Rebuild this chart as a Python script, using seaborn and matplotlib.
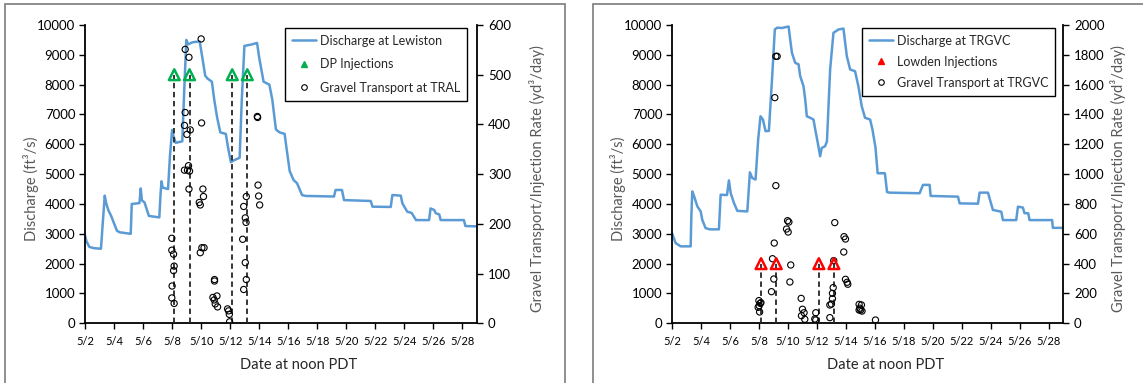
import matplotlib
matplotlib.use("Agg")
import matplotlib.pyplot as plt
from matplotlib.lines import Line2D
from matplotlib.patches import Rectangle
import seaborn as sns

sns.set_theme(style="white")
plt.rcParams["font.family"] = ["Lato", "DejaVu Sans"]

# ---- x axis: days after the 5/2 tick ----
tick_days = [0, 2, 4, 6, 8, 10, 12, 14, 16, 18, 20, 22, 24, 26]
tick_labels = ["5/2", "5/4", "5/6", "5/8", "5/10", "5/12", "5/14",
               "5/16", "5/18", "5/20", "5/22", "5/24", "5/26", "5/28"]

# ---- Discharge at Lewiston (ft3/s) ----
lew_day = [0.00, 0.10, 0.30, 0.60, 1.10, 1.20, 1.36, 1.45, 1.60, 1.80, 2.00, 2.20,
           2.40, 3.15, 3.22, 3.75, 3.84, 3.92, 4.10, 4.40, 5.12, 5.20, 5.27, 5.35,
           5.72, 5.85, 6.00, 6.08, 6.25, 6.70, 6.85, 6.98, 7.10, 7.40, 7.90, 8.05,
           8.28, 8.45, 8.74, 8.90, 9.10, 9.32, 9.70, 9.85, 10.05, 10.20, 10.65, 10.80,
           10.98, 11.20, 11.50, 11.85, 12.00, 12.30, 12.70, 12.90, 13.15, 13.40, 13.75,
           13.90, 14.10, 14.37, 14.60, 14.95, 15.20, 17.15, 17.26, 17.70, 17.84, 19.68,
           19.80, 21.06, 21.17, 21.75, 21.86, 22.20, 22.50, 22.80, 23.70, 23.80, 24.05,
           24.16, 24.40, 24.50, 26.10, 26.20, 27.00]
lew_q = [2950, 2750, 2560, 2520, 2500, 3200, 4280, 4050, 3800, 3600, 3350, 3100,
         3050, 3000, 4000, 4030, 4520, 4120, 4050, 3600, 3550, 4300, 4760, 4550,
         4500, 5600, 6480, 6300, 6050, 6100, 8000, 9500, 9350, 9420, 9450, 9000,
         8300, 8200, 8100, 7500, 6900, 6400, 6350, 5900, 5400, 5450, 5550, 7500,
         9300, 9320, 9350, 9400, 8900, 8100, 8000, 7500, 6500, 6400, 6350,
         5800, 5100, 4800, 4700, 4300, 4270, 4250, 4470, 4470, 4130, 4100,
         3910, 3900, 4300, 4280, 4020, 3740, 3700, 3460, 3460, 3850, 3800,
         3690, 3650, 3460, 3460, 3260, 3250]

# ---- Discharge at TRGVC (ft3/s) ----
trg_day = [0.00, 0.25, 0.60, 1.29, 1.33, 1.40, 1.50, 1.75, 1.98, 2.09, 2.32, 2.60,
           3.24, 3.36, 3.80, 3.93, 4.05, 4.28, 4.51, 5.20, 5.38, 5.54, 5.77, 5.95,
           6.11, 6.28, 6.46, 6.69, 6.92, 7.10, 7.26, 7.60, 8.05, 8.16, 8.28, 8.51,
           8.74, 8.85, 9.08, 9.20, 9.31, 9.54, 9.77, 9.89, 10.11, 10.23, 10.34, 10.57,
           10.70, 10.92, 11.15, 11.50, 11.84, 12.07, 12.30, 12.64, 12.87, 13.10, 13.33,
           13.68, 13.84, 14.05, 14.20, 14.70, 14.85, 15.03, 17.10, 17.33, 17.79, 17.86,
           19.75, 19.86, 21.13, 21.24, 21.82, 21.93, 22.16, 22.74, 22.85, 23.77, 23.89,
           24.23, 24.34, 24.60, 24.69, 26.25, 26.30, 27.00]
trg_q = [3020, 2690, 2580, 2580, 3500, 4420, 4300, 3920, 3750, 3470, 3190, 3150,
         3150, 4310, 4300, 4790, 4370, 4030, 3770, 3750, 5060, 4870, 4820, 6160,
         6940, 6830, 6440, 6450, 8290, 9850, 9910, 9900, 9950, 9520, 9070, 8730,
         8680, 8290, 7950, 7500, 6940, 6890, 6830, 6500, 5935, 5600, 5880, 5935,
         6100, 8510, 9740, 9850, 9880, 8960, 8510, 8450, 7950, 7280, 6890,
         6830, 6500, 5900, 5030, 5030, 4400, 4380, 4360, 4640, 4640, 4270,
         4245, 4020, 4010, 4380, 4380, 4190, 3800, 3740, 3460, 3460, 3910,
         3880, 3690, 3690, 3460, 3460, 3200, 3200]

# ---- Gravel transport at TRAL (yd3/day) ----
tral_day = [5.98, 5.98, 6.10, 6.14, 6.10, 6.00, 5.98, 6.14,
            6.90, 7.16, 6.90, 6.85, 7.02, 7.25, 6.85, 7.06, 7.20, 7.13, 7.16,
            8.00, 8.03, 7.87, 7.94, 8.12, 8.16, 7.94, 8.05, 8.20,
            8.92, 8.92, 8.81, 8.90, 9.09, 8.97, 9.13,
            9.82, 9.89, 9.94, 9.96,
            11.11, 10.93, 11.04, 11.09, 10.86, 11.04, 11.11, 10.93,
            11.87, 11.89, 11.92, 11.96, 12.03]
tral_rate = [171, 147, 139, 115, 106, 75, 51, 40,
             551, 535, 424, 398, 380, 389, 308, 308, 306, 317, 270,
             572, 403, 243, 238, 270, 255, 142, 152, 152,
             88, 85, 52, 47, 55, 39, 33,
             29, 25, 18, 3,
             255, 235, 212, 203, 169, 122, 88, 68,
             416, 414, 278, 256, 238]

# ---- Gravel transport at TRGVC (yd3/day) ----
trgvc_day = [6.00, 6.09, 5.95, 6.14, 6.05, 6.02,
             7.17, 7.26, 7.10, 7.17, 7.06, 6.94, 7.03, 6.87,
             7.98, 8.07, 7.91, 8.02, 8.20, 8.14,
             8.92, 9.01, 9.12, 8.94, 9.17,
             9.93, 9.86, 9.93,
             10.90, 11.01, 11.08, 11.08, 10.90, 11.13, 11.17, 11.24,
             11.88, 11.98, 11.86, 11.98, 12.09, 12.14,
             12.92, 13.08, 12.97, 13.03, 12.92, 13.12,
             14.05]
trgvc_rate = [152, 134, 107, 138, 76, 118,
              1790, 1790, 1513, 923, 538, 433, 297, 212,
              688, 679, 632, 612, 391, 277,
              167, 94, 71, 51, 27,
              71, 29, 22,
              123, 129, 165, 201, 38, 239, 420, 675,
              581, 565, 478, 295, 275, 262,
              127, 123, 101, 89, 89, 82,
              22]

# ---- Gravel injections (yd3/day) ----
inj_day = [6.15, 7.20, 10.14, 11.18]
dp_rate = [500, 500, 500, 500]
lowden_rate = [400, 400, 400, 400]

BLUE = "#5B9BD5"
GREEN = "#00B050"
RED = "#FF0000"
FRAME = "#868686"
W, H = 1143, 383

fig = plt.figure(figsize=(W / 100, H / 100), dpi=100)

# panel outlines
fig.patches.append(Rectangle((5 / W, -0.05), (565 - 5) / W, 1.05 - 4 / H,
                             transform=fig.transFigure, fill=False,
                             ec=FRAME, lw=1.3))
fig.patches.append(Rectangle((593 / W, -0.05), (1160 - 593) / W, 1.05 - 4 / H,
                             transform=fig.transFigure, fill=False,
                             ec=FRAME, lw=1.3))


def draw_panel(x0, x1, q_day, q_val, g_day, g_rate, inj_rate, inj_color,
               ymax2, ystep2, names, leg_anchor, leg_spacing, r_label_x):
    bottom, top = 323.3, 25.0
    ax = fig.add_axes([x0 / W, 1 - bottom / H, (x1 - x0) / W, (bottom - top) / H])
    ax2 = ax.twinx()

    sns.lineplot(x=q_day, y=q_val, ax=ax, color=BLUE, lw=1.8,
                 estimator=None, sort=False)

    ax2.vlines(inj_day, 0, inj_rate, colors="#262626", linestyles=(0, (3, 2)),
               lw=1.3, zorder=2)
    sns.scatterplot(x=inj_day, y=inj_rate, ax=ax2, marker="^", s=60,
                    facecolor="none", edgecolor=inj_color, linewidth=1.8,
                    zorder=4)
    sns.scatterplot(x=g_day, y=g_rate, ax=ax2, marker="o", s=20,
                    facecolor="none", edgecolor="black", linewidth=0.8,
                    zorder=3)

    ax.set_xlim(0, 27)
    ax.set_ylim(0, 10000)
    ax.set_yticks(range(0, 10001, 1000))
    ax2.set_ylim(0, ymax2)
    ax2.set_yticks(range(0, ymax2 + 1, ystep2))
    ax.set_xticks(tick_days)
    ax.set_xticklabels(tick_labels)

    for a in (ax, ax2):
        for s in a.spines.values():
            s.set_color("black")
            s.set_linewidth(1.3)
        a.spines["top"].set_visible(False)
        a.grid(False)
    ax.spines["right"].set_visible(False)
    ax2.spines["left"].set_visible(False)
    ax2.spines["bottom"].set_visible(False)

    ax.tick_params(axis="y", direction="out", length=4, width=1, labelsize=9.5,
                   colors="black", pad=3, left=True)
    ax.tick_params(axis="x", direction="out", length=4, width=1, labelsize=8,
                   colors="black", pad=5, bottom=True)
    ax2.tick_params(axis="y", direction="out", length=4, width=1, labelsize=9.5,
                    colors="black", pad=4, right=True)

    ax.set_xlabel("Date at noon PDT", fontsize=10.5, color="#262626")
    ax.set_ylabel("Discharge (ft³/s)", fontsize=10.5, color="#595959")
    ax2.set_ylabel("Gravel Transport/Injection Rate (yd³/day)", fontsize=10.5,
                   color="#595959")
    ax.xaxis.set_label_coords(0.546, -0.14)
    ax.yaxis.set_label_coords(-0.139, 0.45)
    ax2.yaxis.set_label_coords(r_label_x, 0.484)
    for lab in (ax.xaxis.label, ax.yaxis.label, ax2.yaxis.label):
        lab.set_va("center")
        lab.set_ha("center")

    handles = [
        Line2D([], [], color=BLUE, lw=1.8),
        Line2D([], [], ls="none", marker="^", ms=5, mfc=inj_color, mec=inj_color),
        Line2D([], [], ls="none", marker="o", ms=4, mfc="none", mec="black", mew=0.8),
    ]
    leg = ax2.legend(handles, names, loc="upper right", bbox_to_anchor=leg_anchor,
                     fontsize=9, frameon=True, fancybox=False, framealpha=1,
                     edgecolor="black", handlelength=1.9, handletextpad=0.3,
                     labelspacing=leg_spacing, borderpad=0.55, borderaxespad=0)
    leg.get_frame().set_linewidth(1.0)
    return ax, ax2


draw_panel(85, 477, lew_day, lew_q, tral_day, tral_rate, dp_rate, GREEN, 600, 100,
           ["Discharge at Lewiston", "DP Injections", "Gravel Transport at TRAL"],
           (0.974, 0.99), 0.92, 1.153)
draw_panel(672, 1063, trg_day, trg_q, trgvc_day, trgvc_rate, lowden_rate, RED, 2000, 200,
           ["Discharge at TRGVC", "Lowden Injections", "Gravel Transport at TRGVC"],
           (0.98, 0.99), 0.72, 1.14)

fig.savefig("out.png", dpi=100)
